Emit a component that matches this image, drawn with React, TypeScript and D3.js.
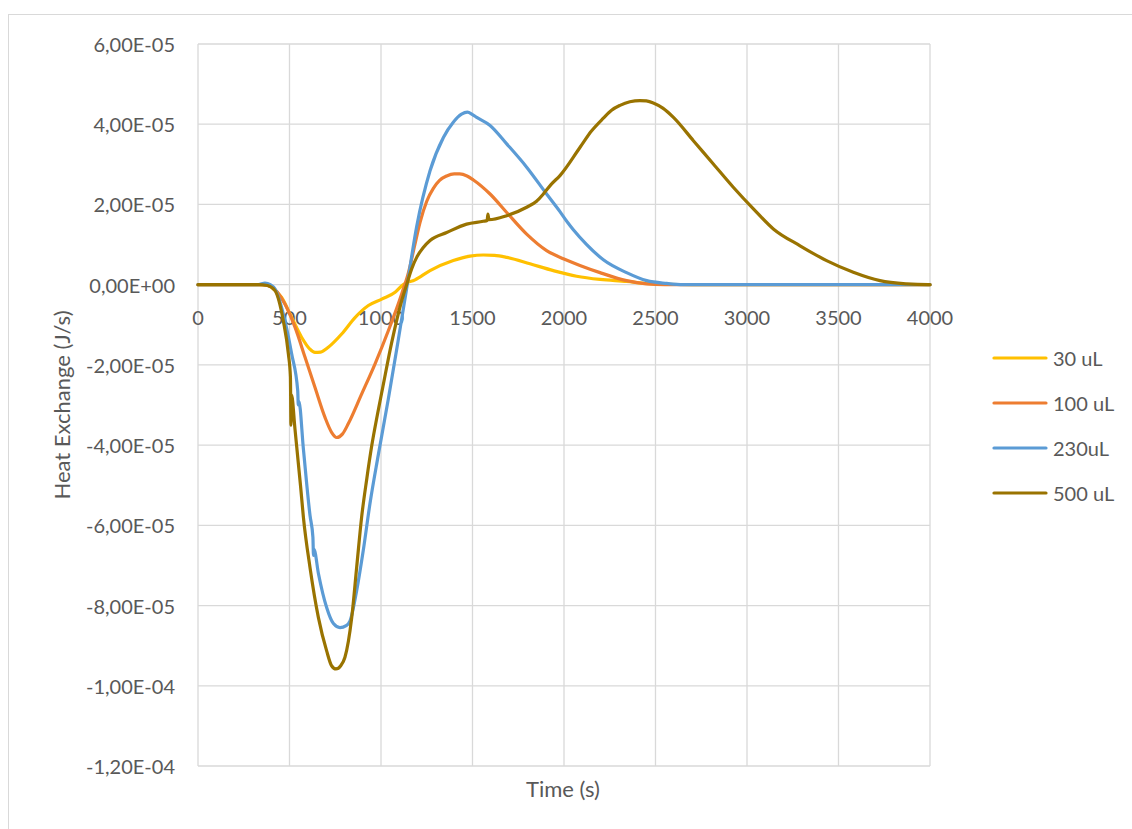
import React from "react";
import * as d3 from "d3";

// Time (s) and heat exchange (J/s) for each sample volume
const t30 = [0, 300, 370, 402, 457, 512, 566, 610, 639, 670, 712, 785, 858, 931, 1004, 1077, 1120, 1186, 1268, 1395, 1486, 1559, 1620, 1687, 1814, 1942, 2069, 2197, 2342, 2452, 2550, 2700, 4000];
const v30 = [0, 0, 0, -0.07e-5, -0.32e-5, -0.82e-5, -1.31e-5, -1.6e-5, -1.69e-5, -1.68e-5, -1.56e-5, -1.23e-5, -0.82e-5, -0.52e-5, -0.36e-5, -0.19e-5, 0, 0.12e-5, 0.35e-5, 0.6e-5, 0.71e-5, 0.74e-5, 0.73e-5, 0.68e-5, 0.52e-5, 0.35e-5, 0.21e-5, 0.13e-5, 0.08e-5, 0.03e-5, 0.01e-5, 0, 0];

const t100 = [0, 350, 400, 475, 530, 585, 639, 694, 730, 758, 790, 821, 894, 967, 1040, 1113, 1150, 1185, 1213, 1250, 1286, 1320, 1359, 1400, 1430, 1470, 1505, 1596, 1687, 1796, 1905, 2000, 2087, 2197, 2342, 2450, 2550, 2700, 4000];
const v100 = [0, 0, -0.05e-5, -0.48e-5, -1.06e-5, -1.81e-5, -2.56e-5, -3.31e-5, -3.68e-5, -3.81e-5, -3.72e-5, -3.47e-5, -2.73e-5, -1.98e-5, -1.15e-5, -0.23e-5, 0.3e-5, 1.0e-5, 1.55e-5, 2.08e-5, 2.4e-5, 2.6e-5, 2.71e-5, 2.76e-5, 2.76e-5, 2.71e-5, 2.61e-5, 2.26e-5, 1.8e-5, 1.26e-5, 0.85e-5, 0.64e-5, 0.48e-5, 0.3e-5, 0.1e-5, 0.02e-5, 0, 0, 0];

const t230 = [0, 330, 366, 395, 421, 475, 512, 545, 548, 551, 576, 612, 628, 631, 634, 658, 703, 740, 776, 810, 831, 867, 903, 940, 985, 1040, 1090, 1140, 1195, 1268, 1341, 1395, 1440, 1472, 1500, 1523, 1596, 1687, 1796, 1905, 1978, 2020, 2051, 2124, 2215, 2342, 2452, 2561, 2650, 4000];
const v230 = [0, 0, 0.04e-5, 0, -0.11e-5, -0.9e-5, -1.73e-5, -2.65e-5, -3.0e-5, -2.9e-5, -4.1e-5, -5.75e-5, -6.3e-5, -6.75e-5, -6.6e-5, -7.2e-5, -8.05e-5, -8.45e-5, -8.55e-5, -8.5e-5, -8.38e-5, -7.63e-5, -6.63e-5, -5.45e-5, -4.25e-5, -2.85e-5, -1.5e-5, -0.1e-5, 1.45e-5, 2.84e-5, 3.67e-5, 4.05e-5, 4.25e-5, 4.3e-5, 4.24e-5, 4.17e-5, 3.97e-5, 3.51e-5, 2.93e-5, 2.26e-5, 1.82e-5, 1.55e-5, 1.37e-5, 1.0e-5, 0.62e-5, 0.3e-5, 0.1e-5, 0.03e-5, 0, 0];

const t500 = [0, 330, 380, 421, 466, 494, 505, 508, 511, 530, 560, 576, 612, 658, 703, 730, 754, 780, 803, 840, 867, 894, 922, 950, 980, 1010, 1058, 1113, 1140, 1168, 1195, 1230, 1268, 1359, 1468, 1559, 1580, 1584, 1590, 1687, 1796, 1850, 1887, 1930, 1978, 2087, 2150, 2215, 2260, 2306, 2360, 2415, 2450, 2488, 2540, 2598, 2707, 2816, 2925, 3035, 3144, 3290, 3435, 3581, 3727, 3872, 3990, 4000];
const v500 = [0, 0, -0.02e-5, -0.15e-5, -0.9e-5, -1.73e-5, -2.3e-5, -3.5e-5, -2.75e-5, -3.6e-5, -5.0e-5, -5.8e-5, -7.05e-5, -8.3e-5, -9.13e-5, -9.5e-5, -9.58e-5, -9.5e-5, -9.29e-5, -8.3e-5, -7.05e-5, -5.8e-5, -4.85e-5, -4.0e-5, -3.25e-5, -2.55e-5, -1.45e-5, -0.4e-5, 0, 0.4e-5, 0.68e-5, 0.92e-5, 1.1e-5, 1.3e-5, 1.51e-5, 1.58e-5, 1.6e-5, 1.76e-5, 1.62e-5, 1.72e-5, 1.93e-5, 2.08e-5, 2.26e-5, 2.5e-5, 2.72e-5, 3.42e-5, 3.83e-5, 4.15e-5, 4.35e-5, 4.47e-5, 4.56e-5, 4.59e-5, 4.58e-5, 4.53e-5, 4.4e-5, 4.17e-5, 3.59e-5, 3.01e-5, 2.43e-5, 1.89e-5, 1.39e-5, 0.97e-5, 0.6e-5, 0.31e-5, 0.1e-5, 0.02e-5, 0, 0];

const seriesNames = ["30 uL", "100 uL", "230uL", "500 uL"];
const seriesColors = ["#FFC000", "#ED7D31", "#5B9BD5", "#997300"];
const seriesTimes = [t30, t100, t230, t500];
const seriesValues = [v30, v100, v230, v500];

const xTicks = [0, 500, 1000, 1500, 2000, 2500, 3000, 3500, 4000];
const yTicks = [6e-5, 4e-5, 2e-5, 0, -2e-5, -4e-5, -6e-5, -8e-5, -1e-4, -1.2e-4];

const xTitle = "Time (s)";
const yTitle = "Heat Exchange (J/s)";

const FONT = "Lato, 'Open Sans', sans-serif";
const TEXT = "#595959";
const GRID = "#D9D9D9";

// Excel-style scientific label with a decimal comma, e.g. -1,20E-04
function sci(v: number): string {
  if (Math.abs(v) < 1e-12) return "0,00E+00";
  const e = Math.floor(Math.log10(Math.abs(v)) + 1e-9);
  const m = v / Math.pow(10, e);
  const ms = m.toFixed(2).replace(".", ",");
  const es = (e < 0 ? "-" : "+") + String(Math.abs(e)).padStart(2, "0");
  return ms + "E" + es;
}

export default function App() {
  const W = 1132;
  const H = 829;
  const x = d3.scaleLinear().domain([0, 4000]).range([198, 930]);
  const y = d3.scaleLinear().domain([-1.2e-4, 6e-5]).range([766, 44]);

  const line = d3
    .line<[number, number]>()
    .x((d) => x(d[0]))
    .y((d) => y(d[1]))
    .curve(d3.curveMonotoneX);

  const legendY = [358, 403, 448, 493];

  return (
    <svg
      width={W}
      height={H}
      style={{ position: "absolute", left: 0, top: 0, background: "#fff" }}
      fontFamily={FONT}
    >
      <rect x={8.5} y={14.5} width={1140} height={840} fill="#fff" stroke={GRID} strokeWidth={1} />

      {/* gridlines */}
      {xTicks.map((t) => (
        <line key={"gx" + t} x1={x(t)} x2={x(t)} y1={y(6e-5)} y2={y(-1.2e-4)} stroke={GRID} strokeWidth={1.3} />
      ))}
      {yTicks.map((v) => (
        <line key={"gy" + v} x1={x(0)} x2={x(4000)} y1={y(v)} y2={y(v)} stroke={GRID} strokeWidth={1.3} />
      ))}

      {/* y tick labels */}
      {yTicks.map((v) => (
        <text key={"ty" + v} x={175} y={y(v)} textAnchor="end" dominantBaseline="central" fontSize={20} fill={TEXT}>
          {sci(v)}
        </text>
      ))}
      {/* x tick labels sit just under the zero line */}
      {xTicks.map((t) => (
        <text key={"tx" + t} x={x(t)} y={y(0) + 32} textAnchor="middle" dominantBaseline="central" fontSize={20} fill={TEXT}>
          {t}
        </text>
      ))}

      {/* series */}
      {seriesNames.map((name, i) => {
        const pts: [number, number][] = seriesTimes[i].map((t, j) => [t, seriesValues[i][j]]);
        return (
          <path
            key={name}
            d={line(pts) || ""}
            fill="none"
            stroke={seriesColors[i]}
            strokeWidth={3.2}
            strokeLinejoin="round"
            strokeLinecap="round"
          />
        );
      })}

      {/* axis titles */}
      <text x={563} y={788} textAnchor="middle" dominantBaseline="central" fontSize={22} fill={TEXT}>
        {xTitle}
      </text>
      <text
        transform={`translate(61,${(y(6e-5) + y(-1.2e-4)) / 2}) rotate(-90)`}
        textAnchor="middle"
        dominantBaseline="central"
        fontSize={22}
        fill={TEXT}
      >
        {yTitle}
      </text>

      {/* legend */}
      {seriesNames.map((name, i) => (
        <g key={"lg" + name}>
          <line x1={994} x2={1046} y1={legendY[i]} y2={legendY[i]} stroke={seriesColors[i]} strokeWidth={3.2} strokeLinecap="round" />
          <text x={1053} y={legendY[i]} dominantBaseline="central" fontSize={20} fill={TEXT}>
            {name}
          </text>
        </g>
      ))}
    </svg>
  );
}
